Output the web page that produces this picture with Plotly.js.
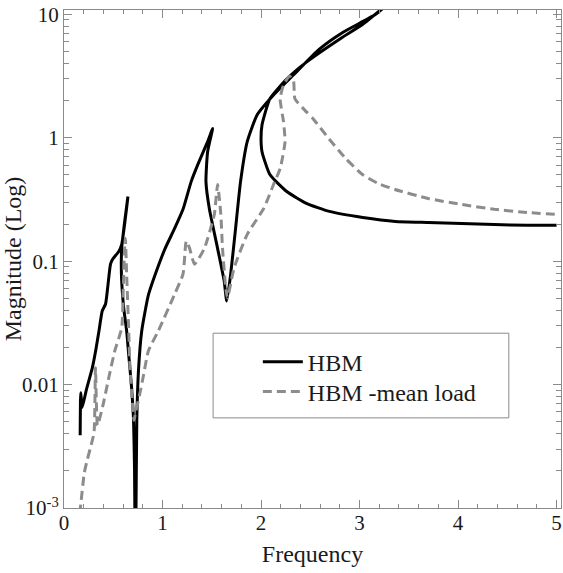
<!DOCTYPE html>
<html>
<head>
<meta charset="utf-8">
<script src="https://cdn.plot.ly/plotly-3.0.1.min.js"></script>
<style>
html,body{margin:0;padding:0;background:#fff;}
#chart{width:563px;height:573px;}
</style>
</head>
<body>
<div id="chart"></div>
<script>
// HBM (solid black), traced along its path (the curve folds back in frequency)
var hbmFreq = [0.164,0.167,0.170,0.185,0.225,0.288,0.325,0.355,0.388,0.422,0.445,0.472,0.495,0.556,0.586,0.623,0.649,
  0.616,0.586,0.583,0.606,0.636,0.656,0.686,0.706,0.716,0.719,0.724,
  0.731,0.739,0.756,0.789,0.857,0.957,1.027,1.124,1.208,1.291,1.358,1.458,1.509,
  1.458,1.441,1.475,1.559,1.626,1.652,
  1.692,1.742,1.792,1.860,1.960,2.127,2.328,2.592,2.833,3.164,3.280,
  3.033,2.812,2.461,2.261,2.090,2.010,2.000,2.010,2.090,2.261,2.461,2.694,3.033,3.364,3.695,4.036,4.367,4.700,5.000];
var hbmMag = [0.00388,0.00743,0.0086,0.00653,0.00895,0.0137,0.0195,0.0272,0.0395,0.045,0.0628,0.0946,0.104,0.12,0.137,0.223,0.334,
  0.21,0.127,0.0785,0.0418,0.0272,0.0178,0.00946,0.00513,0.00202,0.00102,0.0006,
  0.00102,0.00513,0.013,0.0272,0.0532,0.0912,0.127,0.185,0.263,0.441,0.605,0.93,1.19,
  0.771,0.441,0.267,0.127,0.069,0.0475,
  0.0785,0.185,0.441,0.93,1.53,2.22,3.22,5.22,7.16,10.0,12.0,
  8.3,6.4,4.1,2.99,2.07,1.27,0.98,0.771,0.503,0.367,0.294,0.253,0.226,0.21,0.206,0.202,0.198,0.195,0.195];

// HBM -mean load (dashed grey)
var meanFreq = [0.160,0.175,0.205,0.235,0.275,0.305,0.320,0.340,0.395,0.455,0.516,0.586,0.601,0.616,0.623,
  0.636,0.656,0.671,0.696,0.711,0.726,0.766,0.806,0.857,0.957,1.124,1.208,1.241,1.275,1.325,1.425,
  1.526,1.559,1.592,1.609,1.642,1.659,1.726,1.860,2.027,2.127,2.194,2.244,2.228,2.194,2.228,2.290,
  2.330,2.344,2.461,2.530,2.690,2.860,3.030,3.190,3.360,3.695,4.036,4.367,4.700,5.000];
var meanMag = [0.0009,0.00116,0.00191,0.00244,0.00322,0.0041,0.0137,0.00467,0.00678,0.0114,0.0188,0.0288,0.0573,0.132,0.153,
  0.0785,0.0288,0.013,0.00678,0.00513,0.00594,0.00815,0.0118,0.0188,0.0272,0.0542,0.0785,0.145,0.127,0.0946,0.127,
  0.239,0.418,0.239,0.127,0.0605,0.0503,0.0879,0.165,0.267,0.418,0.562,0.93,1.35,2.07,2.67,3.16,
  2.88,2.07,1.62,1.42,0.98,0.678,0.503,0.426,0.381,0.322,0.288,0.263,0.248,0.239];

var seriesNames = ['HBM', 'HBM -mean load'];
var xTickVals = [0, 1, 2, 3, 4, 5];
var yTickVals = [0.001, 0.01, 0.1, 1, 10];
var yTickText = ['10<sup>-3</sup>', '0.01', '0.1', '1', '10'];

var axisCol = '#8a8a8a';
var serif = '"Liberation Serif", "Times New Roman", Times, serif';
var txtCol = '#1a1a1a';

var traces = [
  {x: hbmFreq, y: hbmMag, name: seriesNames[0], mode: 'lines', type: 'scatter', legend: 'legend',
   line: {color: '#000000', width: 3, shape: 'spline', smoothing: 0.5}},
  {x: meanFreq, y: meanMag, name: seriesNames[1], mode: 'lines', type: 'scatter', legend: 'legend2',
   line: {color: '#8c8c8c', width: 3, dash: '9px,5px', shape: 'spline', smoothing: 0.5}}
];

var legendBase = {
  xanchor: 'left', yanchor: 'middle',
  bgcolor: 'rgba(0,0,0,0)', borderwidth: 0,
  font: {family: serif, size: 24, color: txtCol},
  itemwidth: 40
};

var layout = {
  width: 563, height: 573,
  margin: {l: 64, r: 2, t: 10, b: 65},
  paper_bgcolor: '#ffffff', plot_bgcolor: '#ffffff',
  font: {family: serif, color: txtCol, size: 21},
  showlegend: true,
  legend: Object.assign({}, legendBase, {x: 0.39, y: 0.293}),
  legend2: Object.assign({}, legendBase, {x: 0.39, y: 0.233}),
  shapes: [
    {type: 'rect', xref: 'paper', yref: 'paper', x0: 0.300, x1: 0.895, y0: 0.181, y1: 0.351,
     line: {color: axisCol, width: 1}, fillcolor: '#ffffff', layer: 'below'}
  ],
  xaxis: {
    range: [0, 5.045], tickvals: xTickVals,
    showgrid: false, zeroline: false, showline: true, linecolor: axisCol, linewidth: 1,
    mirror: 'ticks', ticks: 'inside', ticklen: 8, tickcolor: axisCol, tickwidth: 1,
    ticklabelstandoff: -4,
    tickfont: {family: serif, size: 21, color: txtCol},
    minor: {dtick: 0.2, tick0: 0, ticks: 'inside', ticklen: 4, tickcolor: axisCol, tickwidth: 1},
    title: {text: 'Frequency', font: {family: serif, size: 24, color: txtCol}, standoff: 10}
  },
  yaxis: {
    type: 'log', range: [-3, 1.035],
    tickvals: yTickVals, ticktext: yTickText,
    showgrid: false, zeroline: false, showline: true, linecolor: axisCol, linewidth: 1,
    mirror: 'ticks', ticks: 'inside', ticklen: 8, tickcolor: axisCol, tickwidth: 1,
    tickfont: {family: serif, size: 21, color: txtCol},
    minor: {dtick: 'D1', ticks: 'inside', ticklen: 5, tickcolor: axisCol, tickwidth: 1},
    title: {text: 'Magnitude (Log)', font: {family: serif, size: 24, color: txtCol}, standoff: 0}
  }
};

Plotly.newPlot('chart', traces, layout, {displayModeBar: false, staticPlot: true});
</script>
</body>
</html>
